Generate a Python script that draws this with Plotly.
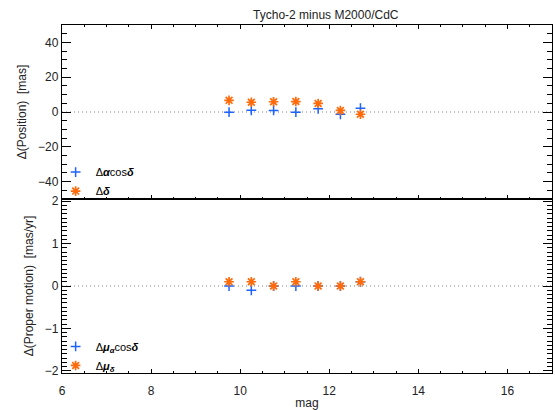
import plotly.graph_objects as go
from plotly.subplots import make_subplots

# ---- data ----
mag = [9.75, 10.25, 10.75, 11.25, 11.75, 12.25, 12.7]
d_ra_cosdec = [-0.1, 1.0, 0.9, -0.1, 1.8, -1.3, 2.2]      # mas
d_dec = [6.7, 5.6, 5.9, 6.0, 4.9, 0.9, -1.3]              # mas
d_pmra_cosdec = [0.0, -0.1, 0.0, 0.0, 0.0, 0.0, 0.1]      # mas/yr
d_pmdec = [0.1, 0.1, 0.0, 0.1, 0.0, 0.0, 0.1]             # mas/yr

title = "Tycho-2 minus M2000/CdC"
ytitle_top = "Δ(Position)  [mas]"
ytitle_bot = "Δ(Proper motion)  [mas/yr]"
xtitle = "mag"

BLUE = "#1f63ff"
ORANGE = "#ff6a0a"
FONT = "Liberation Sans, Arial, sans-serif"

fig = make_subplots(rows=2, cols=1, shared_xaxes=True, vertical_spacing=0)

plus = dict(symbol="cross-thin-open", size=7, color=BLUE, line=dict(color=BLUE, width=1.5))
star = dict(symbol="asterisk-open", size=8, color=ORANGE, line=dict(color=ORANGE, width=1.7))

fig.add_trace(go.Scatter(x=mag, y=d_ra_cosdec, mode="markers", marker=plus,
                         name="Δ<b><i>α</i></b>cos<b><i>δ</i></b>", legend="legend"), row=1, col=1)
fig.add_trace(go.Scatter(x=mag, y=d_dec, mode="markers", marker=star,
                         name="Δ<b><i>δ</i></b>", legend="legend"), row=1, col=1)
fig.add_trace(go.Scatter(x=mag, y=d_pmra_cosdec, mode="markers", marker=plus,
                         name="Δ<b><i>μ</i></b><sub><b><i>α</i></b></sub>cos<b><i>δ</i></b>",
                         legend="legend2"), row=2, col=1)
fig.add_trace(go.Scatter(x=mag, y=d_pmdec, mode="markers", marker=star,
                         name="Δ<b><i>μ</i></b><sub><b><i>δ</i></b></sub>", legend="legend2"), row=2, col=1)

# dotted zero lines
for xref, yref in (("x domain", "y"), ("x2 domain", "y2")):
    fig.add_shape(type="line", xref=xref, yref=yref,
                  x0=0, x1=1, y0=0, y1=0, line=dict(color="#808080", width=1.2, dash="1px,3px"),
                  layer="below")

axis_common = dict(showline=True, linecolor="black", linewidth=1.3, ticks="inside",
                   tickcolor="black", tickwidth=1, showgrid=False, zeroline=False,
                   tickfont=dict(family=FONT, size=12, color="#222"))

fig.update_xaxes(range=[6, 17], dtick=2, tick0=6, ticklen=4,
                 minor=dict(dtick=0.5, ticklen=2, ticks="inside", tickcolor="black"),
                 **axis_common)
fig.update_xaxes(mirror="allticks", showticklabels=False, row=1, col=1)
fig.update_xaxes(mirror=True, ticklabelstandoff=6,
                 title=dict(text=xtitle, font=dict(family=FONT, size=12, color="#222"), standoff=2),
                 row=2, col=1)

fig.update_yaxes(mirror="allticks", **axis_common)
fig.update_yaxes(range=[-50, 50], dtick=20, tick0=0, ticklen=9,
                 minor=dict(dtick=5, ticklen=5, ticks="inside", tickcolor="black"),
                 title=dict(text=ytitle_top, font=dict(family=FONT, size=12, color="#222"), standoff=8),
                 row=1, col=1)
fig.update_yaxes(range=[-2.05, 2.05], dtick=1, tick0=0, ticklen=9,
                 minor=dict(dtick=0.1, ticklen=5, ticks="inside", tickcolor="black"),
                 title=dict(text=ytitle_bot, font=dict(family=FONT, size=12, color="#222"), standoff=8),
                 row=2, col=1)

legend_common = dict(xanchor="left", yanchor="bottom", bgcolor="rgba(0,0,0,0)",
                     font=dict(family=FONT, size=11, color="black"),
                     itemwidth=30, tracegroupgap=0)

fig.update_layout(
    width=555, height=410,
    margin=dict(l=62, r=2, t=25, b=35),
    plot_bgcolor="white", paper_bgcolor="white",
    title=dict(text=title, x=0.587, xanchor="center", y=0.965, yanchor="middle",
               font=dict(family=FONT, size=12, color="#222")),
    legend=dict(x=-0.013, y=0.481, **legend_common),
    legend2=dict(x=-0.013, y=-0.02, **legend_common),
    showlegend=True,
)

fig.write_html("out.html", config={"displayModeBar": False},
               post_script="document.body.style.margin='0';document.body.style.padding='0';")
